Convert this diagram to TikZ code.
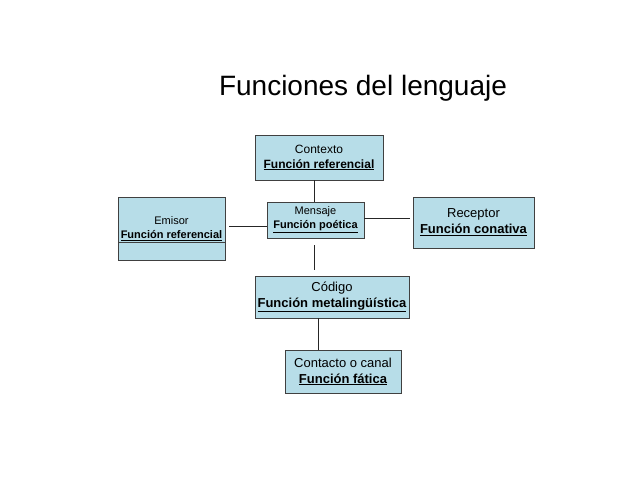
\documentclass[tikz,border=0pt]{standalone}
\usepackage{fontspec}
\setmainfont{Liberation Sans}
\begin{document}
\begin{tikzpicture}[x=1pt,y=-1pt,
  box/.style={draw=black!75,fill=boxblue,line width=0.8pt,inner sep=0pt,align=center,font=\fontsize{12}{15}\selectfont},
  conn/.style={draw=black!85,line width=0.8pt}]
\definecolor{boxblue}{RGB}{183,221,232}
\useasboundingbox (0,0) rectangle (640,480);
\node (title) at (363,88) {\fontsize{28}{32}\selectfont Funciones del lenguaje};
\node[box,minimum width=128,minimum height=45] (ctx) at (319,157.5) {Contexto\\\textbf{\underline{Función referencial}}};
\node[box,minimum width=97,minimum height=36,font=\fontsize{11}{14}\selectfont] (men) at (315.5,220) {Mensaje\\\textbf{\underline{Función poética}}};
\node[box,minimum width=107,minimum height=63,font=\fontsize{11}{14}\selectfont] (emi) at (171.5,228.5) {Emisor\\\textbf{\underline{Función referencial}}};
\draw[black!75,line width=0.8pt] (118,242) -- (225,242);
\node[box,minimum width=121,minimum height=51,font=\fontsize{13}{16}\selectfont] (rec) at (473.5,222.5) {Receptor\\\textbf{\underline{Función conativa}}};
\node[box,minimum width=154,minimum height=42,font=\fontsize{13}{16}\selectfont] (cod) at (332,297) {Código\\\textbf{\underline{Función metalingüística}}};
\node[box,minimum width=116,minimum height=43,font=\fontsize{13}{16}\selectfont] (con) at (343,371.5) {Contacto o canal\\\textbf{\underline{Función fática}}};
\draw[conn] (ctx.south -| 314,0) -- (men.north -| 314,0);
\draw[conn,shorten <=4pt] (emi.east |- 0,226) -- (men.west |- 0,226);
\draw[conn,shorten >=3pt] (men.east |- 0,218) -- (rec.west |- 0,218);
\draw[conn,shorten <=7pt,shorten >=6pt] (men.south -| 314,0) -- (cod.north -| 314,0);
\draw[conn] (cod.south -| 318,0) -- (con.north -| 318,0);
\end{tikzpicture}
\end{document}
